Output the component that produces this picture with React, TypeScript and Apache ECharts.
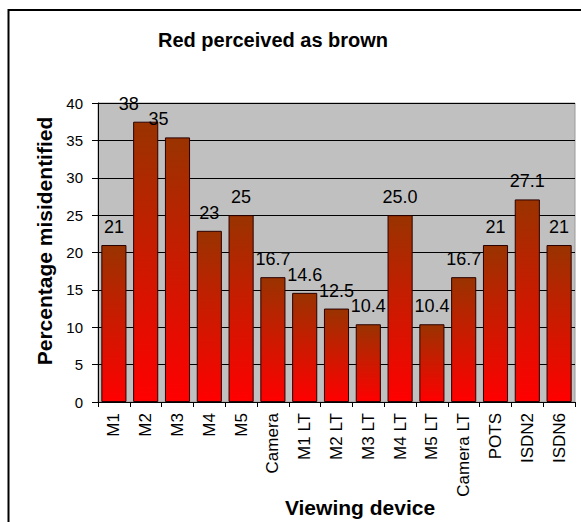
import React, { useEffect, useRef } from "react";
import * as echarts from "echarts";

const categories = ["M1", "M2", "M3", "M4", "M5", "Camera", "M1 LT", "M2 LT", "M3 LT", "M4 LT", "M5 LT", "Camera LT", "POTS", "ISDN2", "ISDN6"];
const values = [21, 37.5, 35.4, 22.9, 25, 16.7, 14.6, 12.5, 10.4, 25.0, 10.4, 16.7, 21, 27.1, 21];
const valueLabels = ["21", "38", "35", "23", "25", "16.7", "14.6", "12.5", "10.4", "25.0", "10.4", "16.7", "21", "27.1", "21"];
const yMin = 0;
const yMax = 40;
const yStep = 5;

const titleText = "Red perceived as brown";
const yTitle = "Percentage misidentified";
const xTitle = "Viewing device";

const FONT = "'Liberation Sans', Arial, Helvetica, sans-serif";

// horizontal nudges of a few value labels (index -> px)
const labelShift: Record<number, number> = { 1: -17, 2: -19 };

export default function App() {
  const ref = useRef<HTMLDivElement>(null);

  useEffect(() => {
    if (!ref.current) return;
    const chart = echarts.init(ref.current, undefined, { renderer: "svg" });

    const barFill = new echarts.graphic.LinearGradient(0, 0, 0, 1, [
      { offset: 0, color: "#993300" },
      { offset: 1, color: "#FF0000" },
    ]);

    const data = values.map((v, i) => {
      const item: any = { value: v };
      if (labelShift[i] !== undefined) {
        item.label = { offset: [labelShift[i], 0] };
      }
      return item;
    });

    chart.setOption({
      animation: false,
      backgroundColor: "#FFFFFF",
      textStyle: { fontFamily: FONT },
      title: {
        text: titleText,
        left: 158,
        top: 30,
        padding: 0,
        textStyle: { fontFamily: FONT, fontSize: 20, fontWeight: "bold", color: "#000" },
      },
      grid: {
        left: 98,
        right: 6,
        top: 103,
        bottom: 120,
        show: true,
        backgroundColor: "#C0C0C0",
        borderColor: "#9a9a9a",
        borderWidth: 1,
        containLabel: false,
      },
      xAxis: {
        type: "category",
        data: categories,
        axisLine: { show: true, lineStyle: { color: "#000", width: 1 } },
        axisTick: { show: true, length: 5, lineStyle: { color: "#000" } },
        axisLabel: {
          rotate: 90,
          interval: 0,
          margin: 11,
          fontSize: 17,
          color: "#000",
          fontFamily: FONT,
        },
        splitLine: { show: false },
      },
      yAxis: {
        type: "value",
        min: yMin,
        max: yMax,
        interval: yStep,
        axisLine: { show: true, lineStyle: { color: "#000", width: 1 } },
        axisTick: { show: true, length: 6, lineStyle: { color: "#000" } },
        axisLabel: { fontSize: 15, color: "#000", margin: 15, fontFamily: FONT },
        splitLine: { show: true, lineStyle: { color: "#000", width: 1 } },
      },
      series: [
        {
          type: "bar",
          data,
          barCategoryGap: "21%",
          itemStyle: {
            color: barFill,
            borderColor: "#2a0000",
            borderWidth: 1,
          },
          label: {
            show: true,
            position: "top",
            distance: 9,
            fontSize: 18,
            color: "#000",
            fontFamily: FONT,
            formatter: (p: any) => valueLabels[p.dataIndex],
          },
        },
      ],
      graphic: [
        {
          type: "rect",
          shape: { x: 8.5, y: 10, width: 620, height: 560 },
          style: { fill: "none", stroke: "#000", lineWidth: 2 },
          silent: true,
          z: 100,
        },
        {
          type: "text",
          x: 44,
          y: 241,
          rotation: Math.PI / 2,
          style: {
            text: yTitle,
            fontFamily: FONT,
            fontSize: 21,
            fontWeight: "bold",
            fill: "#000",
            align: "center",
            verticalAlign: "middle",
          },
        },
        {
          type: "text",
          x: 360,
          y: 507,
          style: {
            text: xTitle,
            fontFamily: FONT,
            fontSize: 21,
            fontWeight: "bold",
            fill: "#000",
            align: "center",
            verticalAlign: "middle",
          },
        },
      ],
    });

    return () => chart.dispose();
  }, []);

  return (
    <div
      ref={ref}
      style={{ position: "absolute", left: 0, top: 0, width: 581, height: 522 }}
    />
  );
}
